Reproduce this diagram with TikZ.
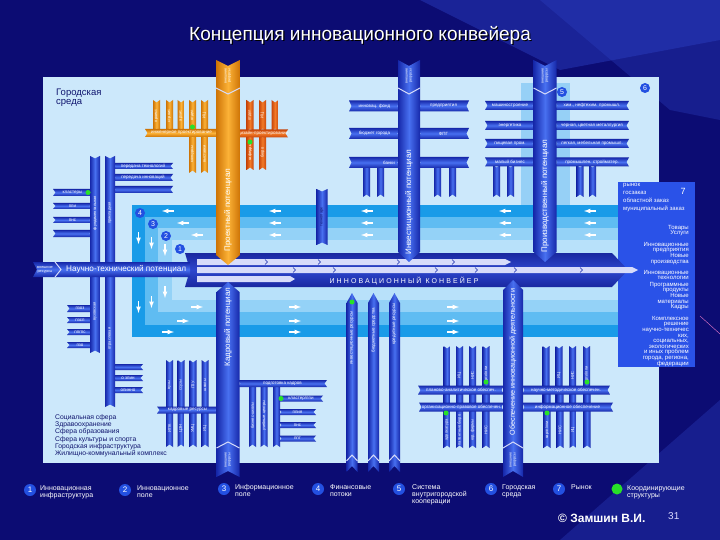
\documentclass[tikz,border=0pt]{standalone}
\usepackage{fontspec}
\setmainfont{Liberation Sans}
\newfontfamily\spaced[LetterSpace=30]{Liberation Sans}
\usepackage{tikz}
\usetikzlibrary{arrows,shapes}

\definecolor{navy}{RGB}{12,12,115}
\definecolor{streak}{RGB}{45,65,195}
\definecolor{panel}{RGB}{204,232,251}
\definecolor{bandA}{RGB}{25,155,232}
\definecolor{bandB}{RGB}{95,188,242}
\definecolor{bandC}{RGB}{148,210,247}
\definecolor{bandD}{RGB}{184,225,250}
\definecolor{hilite}{RGB}{150,208,246}
\definecolor{bdk}{RGB}{22,40,170}
\definecolor{blt}{RGB}{72,112,240}
\definecolor{odk}{RGB}{205,115,5}
\definecolor{olt}{RGB}{252,178,55}
\definecolor{rdk}{RGB}{200,70,10}
\definecolor{rlt}{RGB}{242,122,40}
\definecolor{convdk}{RGB}{25,40,160}
\definecolor{convlt}{RGB}{45,70,205}
\definecolor{rynokblue}{RGB}{42,82,232}
\definecolor{numblue}{RGB}{35,80,225}
\definecolor{stripe}{RGB}{215,220,250}
\definecolor{darktxt}{RGB}{15,20,110}
\definecolor{gdotc}{RGB}{40,225,40}
\definecolor{pinkline}{RGB}{230,120,200}

\newcount\lblno
\newcommand{\hribbon}[6]{%
\path[#5] (#1,#3-#4/2) -- (#2,#3-#4/2) -- (#2-2.5,#3) -- (#2,#3+#4/2) -- (#1,#3+#4/2) -- (#1+2.5,#3) -- cycle;
\global\advance\lblno by 1
\node[lbl] (l\the\lblno) at ({(#1+#2)/2},#3) {#6};}
\newcommand{\vribbon}[6]{%
\path[#5] (#1-#4/2,#2) -- (#1,#2+2.5) -- (#1+#4/2,#2) -- (#1+#4/2,#3) -- (#1,#3-2.5) -- (#1-#4/2,#3) -- cycle;
\global\advance\lblno by 1
\node[vlbl] (l\the\lblno) at (#1,{(#2+#3)/2}) {#6};}
\newcommand{\tcol}[5]{%
\path[#5] (#1-#4/2,#2) -- (#1,#2+6) -- (#1+#4/2,#2) -- (#1+#4/2,#3-10) -- (#1,#3) -- (#1-#4/2,#3-10) -- cycle;}
\newcommand{\bcol}[5]{%
\path[#5] (#1-#4/2,#2+10) -- (#1,#2) -- (#1+#4/2,#2+10) -- (#1+#4/2,#3) -- (#1,#3-6) -- (#1-#4/2,#3) -- cycle;}
\newcommand{\topcap}[3]{%
\draw[capline] (#1-#3/2,#2) -- (#1,#2+6) -- (#1+#3/2,#2);
\global\advance\lblno by 1
\node[caplbl] (l\the\lblno) at (#1,#2-12) {внешние\\ресурсы};}
\newcommand{\botcap}[3]{%
\draw[capline] (#1-#3/2,#2+6) -- (#1,#2) -- (#1+#3/2,#2+6);
\global\advance\lblno by 1
\node[caplbl] (l\the\lblno) at (#1,#2+18) {внешние\\ресурсы};}

\begin{document}
\begin{tikzpicture}[x=1pt,y=-1pt,
lbl/.style={text=white,font=\fontsize{4.5}{5}\selectfont,inner sep=0},
vlbl/.style={lbl,rotate=90,font=\fontsize{4}{4.4}\selectfont},
caplbl/.style={text=white,font=\fontsize{3.6}{3.8}\selectfont,align=center,inner sep=0,rotate=90},
collbl/.style={text=white,font=\fontsize{8}{8}\selectfont,inner sep=0,rotate=90},
capline/.style={draw=stripe,line width=1},
chev/.style={draw=bdk,line width=.5},
num/.style={circle,fill=numblue,text=white,inner sep=0,minimum size=10,font=\fontsize{7}{7}\selectfont},
bignum/.style={num,minimum size=12,font=\fontsize{8}{8}\selectfont},
gdot/.style={circle,fill=gdotc,inner sep=0,minimum size=5},
warr/.style={draw=white,line width=1.2,-latex},
bcol/.style={left color=bdk,right color=bdk,middle color=blt},
bbar/.style={top color=bdk,bottom color=bdk,middle color=blt},
ocol/.style={left color=odk,right color=odk,middle color=olt},
obar/.style={top color=odk,bottom color=odk,middle color=olt},
rcol/.style={left color=rdk,right color=rdk,middle color=rlt},
rbar/.style={top color=rdk,bottom color=rdk,middle color=rlt},
conv/.style={top color=convdk,bottom color=convdk,middle color=convlt},
paneltxt/.style={text=darktxt,inner sep=0,anchor=north west,align=left},
legtxt/.style={text=white,font=\fontsize{7}{7}\selectfont,inner sep=0,anchor=north west,align=left},
rtxt/.style={text=white,font=\fontsize{6}{5.6}\selectfont,inner sep=0,align=right,anchor=north east}]
\fill[navy] (0,0) rectangle (720,540);
\useasboundingbox (0,0) rectangle (720,540);
\fill[streak,opacity=.45] (420,0) -- (720,0) -- (720,40) -- (560,70) -- cycle;
\fill[streak,opacity=.35] (540,0) -- (720,0) -- (720,120) -- (670,110) -- cycle;
\fill[streak,opacity=.35] (560,540) -- (720,400) -- (720,540) -- cycle;
\draw[pinkline] (700,316) -- (720,334);
\node[text=black,font=\fontsize{19}{19}\selectfont] (ttls) at (361.2,36.2) {Концепция инновационного конвейера};
\node[text=white,font=\fontsize{19}{19}\selectfont] (ttl) at (360,35) {Концепция инновационного конвейера};

\fill[panel] (43,77) rectangle (659,463);
\fill[hilite] (521,83) rectangle (570,205);
\fill[bandA] (132,205) rectangle (630,337);
\fill[bandB] (145,217) rectangle (630,325);
\fill[bandC] (158,228) rectangle (630,312);
\fill[bandD] (172,240) rectangle (630,300);
\node[paneltxt,font=\fontsize{9.5}{8.5}\selectfont] (gs) at (56,89) {Городская\\среда};

\draw[warr] (174,211) -- (162,211);
\draw[warr] (189,223) -- (177,223);
\draw[warr] (203,235) -- (191,235);
\foreach \x in {275,367,505,590}
\foreach \y in {211,223,235}
\draw[warr] (\x+6,\y) -- (\x-6,\y);
\draw[warr] (191,307) -- (203,307);
\draw[warr] (177,321) -- (189,321);
\draw[warr] (162,332) -- (174,332);
\foreach \x in {295,453}
\foreach \y in {307,321,332}
\draw[warr] (\x-6,\y) -- (\x+6,\y);
\draw[warr] (138.5,232) -- (138.5,244);
\draw[warr] (151.5,237) -- (151.5,249);
\draw[warr] (165,244) -- (165,256);
\draw[warr] (138.5,301) -- (138.5,313);
\draw[warr] (151.5,296) -- (151.5,308);
\draw[warr] (165,286) -- (165,298);
\node[num] (n4) at (140,213) {4};
\node[num] (n3) at (153,224) {3};
\node[num] (n2) at (166,236) {2};
\node[num] (n1) at (180,249) {1};
\node[num] (n5) at (562,92) {5};
\node[num] (n6) at (645,88) {6};

\fill[rynokblue] (618,182) rectangle (695,367);
\node[text=white,font=\fontsize{6}{8}\selectfont,inner sep=0,anchor=north west,align=left] (rz) at (623,183) {рынок\\госзаказ\\областной заказ\\муниципальный заказ};
\node[text=white,font=\fontsize{9}{9}\selectfont,inner sep=0] (r7) at (683,191) {7};
\node[rtxt] (rt1) at (689,225) {Товары\\Услуги};
\node[rtxt] (rt2) at (689,242) {Инновационные\\предприятия\\Новые\\производства};
\node[rtxt] (rt3) at (689,270) {Инновационные\\технологии};
\node[rtxt] (rt4) at (689,282) {Программные\\продукты\\Новые\\материалы\\Кадры};
\node[rtxt] (rt5) at (689,316) {Комплексное\\решение\\научно-техничес\\ких,\\социальных,\\экологических\\и иных проблем\\города, региона,\\федерации};

\path[conv] (185,253) -- (612,253) -- (628,270) -- (612,287) -- (185,287) -- (190,270) -- cycle;
\fill[stripe] (197,259) -- (505,259) -- (511,262) -- (505,265) -- (197,265) -- cycle;
\fill[stripe] (197,267) -- (632,267) -- (638,270) -- (632,273) -- (197,273) -- cycle;
\fill[stripe] (197,276) -- (290,276) -- (295,279) -- (290,282) -- (197,282) -- cycle;
\foreach \x in {265,318,397,452}
\draw[chev] (\x,259.5) -- (\x+2.5,262) -- (\x,264.5);
\foreach \x in {293,333,435,475,514,580}
\draw[chev] (\x,267.5) -- (\x+2.5,270) -- (\x,272.5);
\node[text=white,font=\spaced\fontsize{7}{7}\selectfont,inner sep=0] (ik) at (404,281) {ИННОВАЦИОННЫЙ КОНВЕЙЕР};

\hribbon{53}{92}{192.5}{7}{bbar}{кластеры}
\hribbon{53}{92}{206}{6}{bbar}{ппи}
\hribbon{53}{92}{220}{6}{bbar}{пнс}
\hribbon{53}{92}{233.5}{7}{bbar}{}
\hribbon{113}{173}{166}{6}{bbar}{передача технологий}
\hribbon{113}{173}{177.5}{7}{bbar}{передача инноваций}
\hribbon{113}{173}{189.5}{7}{bbar}{}
\hribbon{67}{93}{308.5}{7}{bbar}{пзоз}
\hribbon{67}{93}{320}{6}{bbar}{пзсп}
\hribbon{67}{93}{332}{6}{bbar}{ппгпс}
\hribbon{67}{93}{345}{6}{bbar}{пзо}
\hribbon{113}{143}{367}{6}{bbar}{}
\hribbon{113}{143}{378}{6}{bbar}{о зпин}
\hribbon{113}{143}{390}{6}{bbar}{опинно}
\vribbon{95}{156}{270}{10}{bcol}{фундаментальная}
\vribbon{110}{156}{270}{10}{bcol}{прикладная}
\vribbon{95}{270}{353}{10}{bcol}{вузовская}
\vribbon{110}{270}{407}{10}{bcol}{отраслевая}
\node[gdot] (g1) at (88,192.5) {};
\path[bbar] (33,262) -- (190,262) -- (190,277) -- (33,277) -- (37,269.5) -- cycle;
\draw[capline] (55,262) -- (61,269.5) -- (55,277);
\node[text=white,font=\fontsize{3.8}{4}\selectfont,align=center,inner sep=0] (vr0) at (45,269.5) {внешние\\ресурсы};
\node[text=white,font=\fontsize{8.2}{8.2}\selectfont,anchor=west,inner sep=0] (ntp) at (66,269.5) {Научно-технический потенциал};

\foreach \x/\lab in {156.5/проект.,169.5/строит.,181/архит.,192.5/отдел,204.5/ИЦ}
\vribbon{\x}{100}{131}{7}{ocol}{\lab};
\foreach \x/\lab in {192.5/конкурсы,204.5/выставки}
\vribbon{\x}{135}{173}{7}{ocol}{\lab};
\foreach \x/\lab in {250/отдел,262.5/ИЦ,275/}
\vribbon{\x}{100}{131}{7}{rcol}{\lab};
\foreach \x/\lab in {250/кафедры,262.5/бюро}
\vribbon{\x}{135}{170}{7}{rcol}{\lab};
\hribbon{145}{218}{133}{8}{obar}{инженерное проектирование}
\hribbon{238}{288}{133.5}{8}{rbar}{дизайн-проектирование}
\node[gdot] (g2) at (192.5,127) {};
\node[gdot] (g3) at (250,142) {};
\tcol{228}{60}{265}{24}{ocol}
\topcap{228}{88}{24}
\node[collbl] (pp) at (228,210) {Проектный потенциал};

\foreach \x in {366.5,380.5,437.5,452.5}
\vribbon{\x}{165}{197}{7}{bcol}{};
\hribbon{349}{400}{106}{11}{bbar}{инновац. фонд}
\hribbon{418}{469}{106}{11}{bbar}{предприятия}
\hribbon{349}{400}{133.5}{11}{bbar}{бюджет города}
\hribbon{418}{469}{133.5}{11}{bbar}{ФПГ}
\hribbon{349}{400}{162.5}{11}{bbar}{}
\hribbon{418}{469}{162.5}{11}{bbar}{}
\node[lbl] (bk) at (389,162.5) {банки};
\vribbon{322}{189}{245}{11}{bcol}{}
\node[vlbl,text=darktxt] (tp) at (322,217) {технопарк};
\tcol{409}{60}{262}{22}{bcol}
\topcap{409}{88}{22}
\node[collbl] (ip) at (409,202) {Инвестиционный потенциал};

\foreach \x in {496.5,510.5,580,592.5}
\vribbon{\x}{165}{197}{7}{bcol}{};
\hribbon{485}{535}{105.5}{9}{bbar}{машиностроение}
\hribbon{555}{629}{105.5}{9}{bbar}{хим., нефтехим. промышл.}
\hribbon{485}{535}{125.5}{9}{bbar}{энергетика}
\hribbon{555}{629}{125.5}{9}{bbar}{черная, цветная металлургия}
\hribbon{485}{535}{143.5}{9}{bbar}{пищевая пром.}
\hribbon{555}{629}{143.5}{9}{bbar}{легкая, мебельная промышл.}
\hribbon{485}{535}{162}{9}{bbar}{малый бизнес}
\hribbon{555}{629}{162}{9}{bbar}{промышлен. стройматер.}
\tcol{545}{60}{262}{23}{bcol}
\topcap{545}{88}{23}
\node[collbl] (prp) at (545,196) {Производственный потенциал};

\foreach \x/\lab in {169.5/вузы,181/ссузы,193/ПТУ,205/школы}
\vribbon{\x}{360}{410}{7}{bcol}{\lab};
\foreach \x/\lab in {169.5/ИПК,181/ЦЗН,193/УМЦ,205/ИЦ}
\vribbon{\x}{410}{447}{7}{bcol}{\lab};
\hribbon{157}{218}{410}{7}{bbar}{кадровые ресурсы}
\foreach \x/\lab in {252.5/бизнес-школы,264/учебные центры,276.5/}
\vribbon{\x}{384}{447}{7}{bcol}{\lab};
\hribbon{279}{323}{398.5}{6}{bbar}{кластер/ппи}
\hribbon{279}{316}{412}{6}{bbar}{ппия}
\hribbon{279}{316}{425}{6}{bbar}{пнс}
\hribbon{279}{316}{438.5}{6}{bbar}{ппт}
\node[gdot] (g4) at (281,398.5) {};
\hribbon{238}{327}{383.5}{7}{bbar}{подготовка кадров}
\bcol{228}{282}{477}{23}{bcol}
\botcap{228}{442}{23}
\node[collbl] (kp) at (228,327) {Кадровый потенциал};

\foreach \x in {352,373.5,394.5}{
\bcol{\x}{293}{472}{11}{bcol}
\draw[capline] (\x-5.5,461) -- (\x,455) -- (\x+5.5,461);}
\node[vlbl,font=\fontsize{4.5}{5}\selectfont] (f1) at (352,338) {инвестиционные ресурсы};
\node[vlbl,font=\fontsize{4.5}{5}\selectfont] (f2) at (373.5,330) {бюджетные средства};
\node[vlbl,font=\fontsize{4.5}{5}\selectfont] (f3) at (394.5,324) {кредитные ресурсы};
\node[gdot] (g5) at (352,302) {};

\foreach \x/\lab in {447/,459.5/ИЦ,472.5/НИС,486/картл\slash ппи,546/,559/ИЦ,572.5/НИС,586.5/картл\slash ппи}
\vribbon{\x}{346}{405}{7}{bcol}{\lab};
\foreach \x/\lab in {447/адвокатура,459.5/патентные бюро,472.5/юр. фирмы,486/НИС,547/картл\slash ппи,560/НИС,573/ИЦ,587/}
\vribbon{\x}{392}{448}{7}{bcol}{};
\foreach \x/\lab in {447/адвокатура,459.5/патентные бюро,472.5/юр. фирмы,486/НИС,547/картл\slash ппи,560/НИС,573/ИЦ}{
\global\advance\lblno by 1
\node[vlbl] (l\the\lblno) at (\x,430) {\lab};}
\hribbon{418}{504}{390}{9}{bbar}{планово-аналитическое обеспеч.}
\hribbon{522}{610}{390}{9}{bbar}{научно-методическое обеспечен.}
\hribbon{419}{504}{407}{9}{bbar}{организационно-правовое обеспечен.}
\hribbon{522}{613}{407}{9}{bbar}{информационное обеспечение}
\node[gdot] (g6) at (486,382) {};
\node[gdot] (g7) at (587,382) {};
\node[gdot] (g8) at (446,413) {};
\node[gdot] (g9) at (547,413) {};
\bcol{513}{280}{477}{20}{bcol}
\botcap{513}{442}{20}
\node[collbl,font=\fontsize{7.2}{7.2}\selectfont] (od) at (513,362) {Обеспечение инновационной деятельности};

\node[paneltxt,font=\fontsize{6.8}{6}\selectfont] (soc) at (55,414) {Социальная сфера\\Здравоохранение\\Сфера образования\\Сфера культуры и спорта\\Городская инфраструктура\\Жилищно-коммунальный комплекс};

\node[bignum] (k1) at (30,490) {1};
\node[legtxt] (k1t) at (40,485) {Инновационная\\инфраструктура};
\node[bignum] (k2) at (125,490) {2};
\node[legtxt] (k2t) at (137,485) {Инновационное\\поле};
\node[bignum] (k3) at (224,489) {3};
\node[legtxt] (k3t) at (235,484) {Информационное\\поле};
\node[bignum] (k4) at (318,489) {4};
\node[legtxt] (k4t) at (330,484) {Финансовые\\потоки};
\node[bignum] (k5) at (399,489) {5};
\node[legtxt] (k5t) at (412,484) {Система\\внутригородской\\кооперации};
\node[bignum] (k6) at (491,489) {6};
\node[legtxt] (k6t) at (502,484) {Городская\\среда};
\node[bignum] (k7) at (559,489) {7};
\node[legtxt] (k7t) at (571,484) {Рынок};
\node[gdot,minimum size=11] (kg) at (617,489) {};
\node[legtxt] (kgt) at (627,485) {Координирующие\\структуры};
\node[text=white,font=\fontsize{12}{12}\selectfont\bfseries,anchor=west,inner sep=0] (cr) at (558,518) {© Замшин В.И.};
\node[text=white!85!blue,font=\fontsize{10}{10}\selectfont,anchor=west,inner sep=0] (pg) at (668,516) {31};
\end{tikzpicture}
\end{document}
